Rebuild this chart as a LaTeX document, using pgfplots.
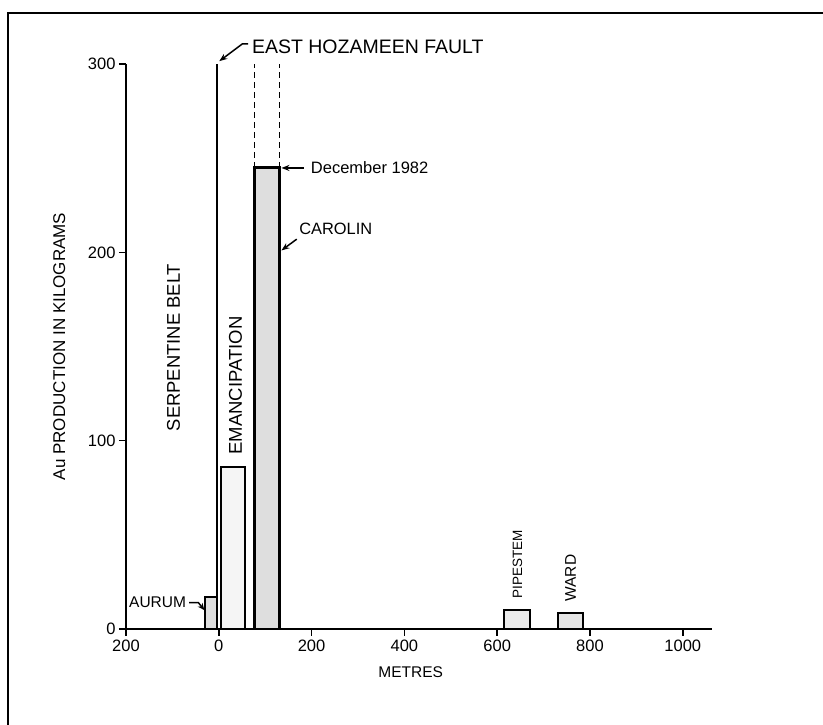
\documentclass[border=0pt]{standalone}
\usepackage{fontspec}
\setmainfont{Liberation Sans}
\usepackage{pgfplots}
\pgfplotsset{compat=1.18}
\usetikzlibrary{arrows.meta}
\newcommand\fs[1]{\fontsize{#1}{#1}\selectfont}

\begin{document}
\begin{tikzpicture}[x=1pt,y=1pt]
\useasboundingbox (0,0) rectangle (823,725);
% frame of the figure (runs off the right and bottom edges)
\draw[line width=1.8pt] (8,0) -- (8,712) -- (823,712);
\begin{axis}[
    at={(126pt,96pt)}, anchor=south west,
    scale only axis, width=586pt, height=565pt,
    xmin=-200, xmax=1063, ymin=0, ymax=300,
    axis lines*=left,
    axis line style={line width=2pt},
    xtick={-200,0,200,400,600,800,1000},
    xticklabels={200,0,200,400,600,800,1000},
    ytick={0,100,200,300},
    tick align=outside,
    major tick length=7pt,
    tick style={line width=1.6pt, black},
    ticklabel style={font=\fs{16.5}},
    /pgf/number format/assume math mode=true,
    xlabel={METRES},
    xlabel style={font=\fs{15.5}, at={(axis description cs:0.486,-0.076)}, anchor=center},
    ylabel={Au PRODUCTION IN KILOGRAMS},
    ylabel style={font=\fs{17}, at={(axis description cs:-0.114,0.5)}, anchor=center},
    clip=false,
]
% bars: left edge, right edge, height
\addplot[draw=black, line width=2.2pt, fill=black!13] coordinates {(-29,0) (-29,17) (-4,17) (-4,0)} \closedcycle;   % Aurum
\addplot[draw=black, line width=2.2pt, fill=black!4]  coordinates {(4,0) (4,86) (56,86) (56,0)} \closedcycle;       % Emancipation
\addplot[draw=black, line width=2.2pt, fill=black!13] coordinates {(77,0) (77,245) (131,245) (131,0)} \closedcycle;  % Carolin
\addplot[draw=black, line width=2.2pt, fill=black!8]  coordinates {(614,0) (614,10) (670,10) (670,0)} \closedcycle;  % Pipestem
\addplot[draw=black, line width=2.2pt, fill=black!10] coordinates {(731,0) (731,8.5) (785,8.5) (785,0)} \closedcycle; % Ward

% East Hozameen fault and Carolin limits
\addplot[black, line width=2pt] coordinates {(-4,0) (-4,300)};
\addplot[black, line width=1.6pt, dash pattern=on 6pt off 4pt] coordinates {(77,245) (77,300)};
\addplot[black, line width=1.6pt, dash pattern=on 6pt off 4pt] coordinates {(131,245) (131,300)};

% labels
\node[anchor=base west, font=\fs{19.5}] at (axis cs:64,305.4) {EAST HOZAMEEN FAULT};
\draw[line width=1.5pt, -{Stealth[length=8pt,width=6pt]}] (axis cs:63,310.7) -- (axis cs:51,310.7) -- (axis cs:1,301.5);

\node[anchor=west, font=\fs{16.5}] at (axis cs:191,244.8) {December 1982};
\draw[line width=1.5pt, -{Stealth[length=8pt,width=6pt]}] (axis cs:183,244.8) -- (axis cs:135,244.8);

\node[anchor=west, font=\fs{16.4}] at (axis cs:166,212.4) {CAROLIN};
\draw[line width=1.5pt, -{Stealth[length=8pt,width=6pt]}] (axis cs:168,207) -- (axis cs:135,201);

\node[rotate=90, anchor=center, font=\fs{18.4}] at (axis cs:-97.7,149.5) {SERPENTINE BELT};
\node[rotate=90, anchor=west, font=\fs{18.5}] at (axis cs:36,90.8) {EMANCIPATION};
\node[rotate=90, anchor=west, font=\fs{13.5}] at (axis cs:644,14.3) {PIPESTEM};
\node[rotate=90, anchor=west, font=\fs{15.5}] at (axis cs:758,12.7) {WARD};

\node[anchor=east, font=\fs{15.5}] at (axis cs:-63,14.3) {AURUM};
\draw[line width=1.5pt, -{Stealth[length=7pt,width=6pt]}] (axis cs:-64,14) -- (axis cs:-44,14) -- (axis cs:-31,10);
\end{axis}
\end{tikzpicture}
\end{document}
